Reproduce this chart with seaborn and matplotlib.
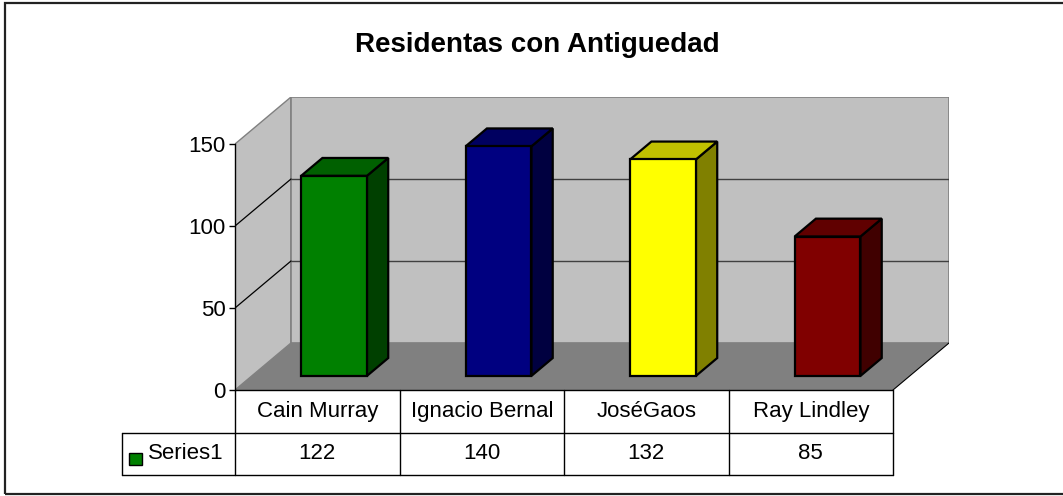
"""3D-style column chart with a data table, in the old spreadsheet look."""

import matplotlib

matplotlib.use("Agg")

import matplotlib.pyplot as plt
import pandas as pd
import seaborn as sns
from matplotlib.patches import Polygon, Rectangle

# data
names = ["Cain Murray", "Ignacio Bernal", "JoséGaos", "Ray Lindley"]
values = [122, 140, 132, 85]
front_colors = ["#008000", "#000080", "#FFFF00", "#800000"]
side_colors = ["#004000", "#000040", "#808000", "#400000"]
top_colors = ["#006000", "#000060", "#C0C000", "#600000"]
y_ticks = [0, 50, 100, 150]
series_name = "Series1"
title = "Residentas con Antiguedad"

# layout (pixels of the 1063x496 picture)
W, H = 1063, 496
AX_L, AX_R = 235, 949      # front y-axis .. right end of back wall
AX_B, AX_T = 390, 97       # floor front edge .. top of back wall
DX, DY = 0.3404, 28.66     # depth offset in data units
T0, T1 = 0.30, 0.68        # bar depth span
X_PER_PX = 1 / 164.5
Y_PER_PX = 1 / 1.64

sns.set_theme(style="white")
plt.rcParams["font.family"] = ["Liberation Sans", "DejaVu Sans"]
plt.rcParams["text.color"] = "black"

fig = plt.figure(figsize=(W / 100, H / 100), dpi=100)
ax = fig.add_axes([AX_L / W, 1 - AX_B / H, (AX_R - AX_L) / W, (AX_B - AX_T) / H])

df = pd.DataFrame({"name": names, "value": values})
sns.barplot(
    data=df, x="name", y="value", hue="name", palette=front_colors,
    legend=False, width=0.4, saturation=1, edgecolor="black",
    linewidth=1.6, ax=ax,
)
bars = sorted(ax.patches, key=lambda p: p.get_x())

n = len(names)
xl, xr = -0.5, n - 0.5
top_v = max(y_ticks)
ax.set_xlim(xl, xr + DX)
ax.set_ylim(0, top_v + DY)

# walls and floor
ax.add_patch(Polygon([(xl, 0), (xl, top_v), (xl + DX, top_v + DY), (xl + DX, DY)],
                     fc="#C0C0C0", ec="#808080", lw=1, zorder=0))
ax.add_patch(Rectangle((xl + DX, DY), n, top_v, fc="#C0C0C0", ec="#808080", lw=1.2, zorder=0))
ax.add_patch(Polygon([(xl, 0), (xr, 0), (xr + DX, DY), (xl + DX, DY)],
                     fc="#808080", ec="none", zorder=1))
ax.plot([xr, xr + DX], [0, DY], color="black", lw=0.8, zorder=1.2)
for v in y_ticks[1:-1]:
    ax.plot([xl, xl + DX], [v, v + DY], color="black", lw=0.9, zorder=0.5)
    ax.plot([xl + DX, xr + DX], [v + DY, v + DY], color="#404040", lw=1, zorder=0.5)

# 3D faces of the bars
ddx, ddy = DX * (T1 - T0), DY * (T1 - T0)
for i, p in enumerate(bars):
    x0 = p.get_x() + DX * T0
    y0 = DY * T0
    p.set_x(x0)
    p.set_y(y0)
    p.set_zorder(4)
    w = p.get_width()
    top = y0 + p.get_height()
    ax.add_patch(Polygon([(x0 + w, y0), (x0 + w + ddx, y0 + ddy), (x0 + w + ddx, top + ddy), (x0 + w, top)],
                         fc=side_colors[i], ec="black", lw=1.6, zorder=3))
    ax.add_patch(Polygon([(x0, top), (x0 + ddx, top + ddy), (x0 + w + ddx, top + ddy), (x0 + w, top)],
                         fc=top_colors[i], ec="black", lw=1.6, zorder=3))

# axis styling
ax.set_xlabel("")
ax.set_ylabel("")
ax.set_xticks([])
ax.set_yticks(y_ticks)
for side in ["top", "right", "bottom"]:
    ax.spines[side].set_visible(False)
ax.spines["left"].set_bounds(0, top_v)
ax.spines["left"].set_color("black")
ax.spines["left"].set_linewidth(1)
ax.tick_params(axis="y", left=True, length=4.5, width=1, direction="out",
               labelsize=16, pad=2, colors="black")

# data table below the floor
row_mid = -(433 - AX_B) * Y_PER_PX
row_bot = -(475 - AX_B) * Y_PER_PX
x_left = xl - (AX_L - 122) * X_PER_PX
line_kw = dict(color="black", lw=1, clip_on=False, zorder=5)
ax.plot([xl, xr], [0, 0], **line_kw)
ax.plot([x_left, xr], [row_mid, row_mid], **line_kw)
ax.plot([x_left, xr], [row_bot, row_bot], **line_kw)
for i in range(n + 1):
    ax.plot([xl + i, xl + i], [0, row_bot], **line_kw)
ax.plot([x_left, x_left], [row_mid, row_bot], **line_kw)

for i, (name, val) in enumerate(zip(names, values)):
    ax.text(i, row_mid / 2, name, ha="center", va="center", fontsize=16, color="black", clip_on=False)
    ax.text(i, (row_mid + row_bot) / 2, str(val), ha="center", va="center", fontsize=16,
            color="black", clip_on=False)

key_x = xl - (AX_L - 129) * X_PER_PX
key_y = -(465 - AX_B) * Y_PER_PX
ax.add_patch(Rectangle((key_x, key_y), 13 * X_PER_PX, 12 * Y_PER_PX, fc=front_colors[0],
                       ec="black", lw=1, clip_on=False, zorder=6))
ax.text(xl - (AX_L - 148) * X_PER_PX, (row_mid + row_bot) / 2, series_name,
        ha="left", va="center", fontsize=16, color="black", clip_on=False)

fig.text(537 / W, 1 - 52 / H, title, ha="center", va="baseline", fontsize=20,
         fontweight="bold", color="black")

# chart area border
fig.add_artist(Rectangle((4.5 / W, 1 - 494 / H), (1075 - 4.5) / W, (494 - 2.5) / H,
                         transform=fig.transFigure, fill=False, ec="#222222", lw=1.6))

fig.savefig("out.png", dpi=100)
plt.close(fig)
